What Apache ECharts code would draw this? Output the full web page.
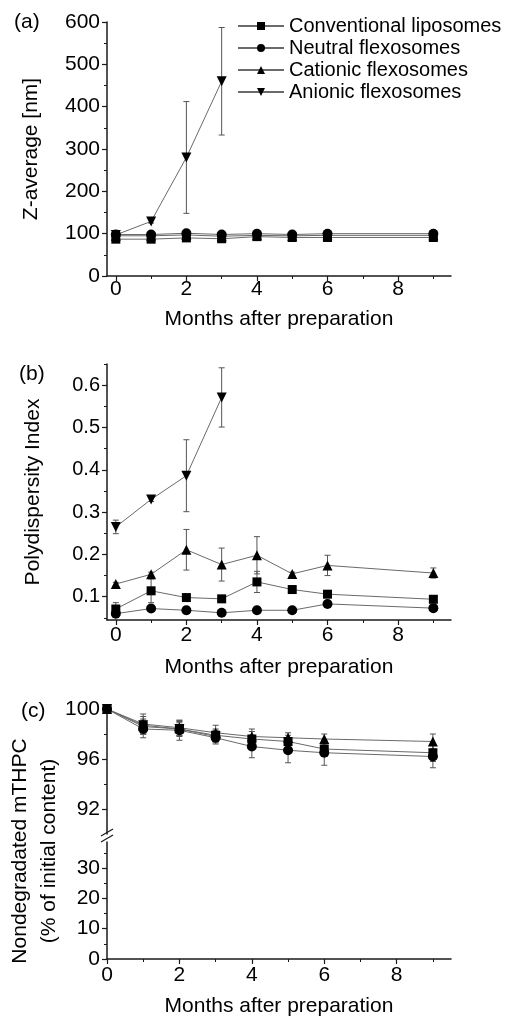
<!DOCTYPE html>
<html>
<head>
<meta charset="utf-8">
<title>Liposome stability</title>
<script src="https://cdn.jsdelivr.net/npm/echarts@6/dist/echarts.min.js"></script>
<style>
  html, body { margin: 0; padding: 0; background: #fff; }
  #chart { width: 510px; height: 1018px; }
</style>
</head>
<body>
<div id="chart"></div>
<script>
  // months at which samples were measured
  const months = [0, 1, 2, 3, 4, 5, 6, 9]
  const anionicMonths = [0, 1, 2, 3]

  const seriesNames = ['Conventional liposomes', 'Neutral flexosomes', 'Cationic flexosomes', 'Anionic flexosomes']

  // (a) Z-average [nm]
  const zConventional = [87, 87, 90, 88, 93, 91, 91, 91]
  const zConventionalSd = [2, 2, 2, 2, 2, 2, 2, 2]
  const zNeutral = [98, 98, 101, 98, 100, 98, 100, 100]
  const zNeutralSd = [2, 2, 2, 2, 2, 2, 2, 2]
  const zCationic = [95, 95, 97, 94, 96, 95, 96, 96]
  const zCationicSd = [2, 2, 2, 2, 2, 2, 2, 2]
  const zAnionic = [97, 129, 280, 460]
  const zAnionicSd = [3, 4, 132, 127]

  // (b) polydispersity index
  const pdiConventional = [0.071, 0.114, 0.098, 0.095, 0.135, 0.117, 0.106, 0.094]
  const pdiConventionalSd = [0.015, 0.028, 0.008, 0.004, 0.025, 0.004, 0.004, 0.005]
  const pdiNeutral = [0.060, 0.072, 0.068, 0.062, 0.068, 0.068, 0.083, 0.073]
  const pdiNeutralSd = [0.004, 0.006, 0.008, 0.003, 0.004, 0.004, 0.004, 0.004]
  const pdiCationic = [0.130, 0.153, 0.211, 0.176, 0.198, 0.154, 0.174, 0.156]
  const pdiCationicSd = [0.004, 0.005, 0.048, 0.039, 0.044, 0.004, 0.024, 0.012]
  const pdiAnionic = [0.265, 0.330, 0.386, 0.571]
  const pdiAnionicSd = [0.016, 0.005, 0.085, 0.070]

  // (c) nondegradated mTHPC [% of initial content]
  const cConventional = [100, 98.6, 98.4, 97.9, 97.6, 97.4, 96.8, 96.5]
  const cConventionalSd = [0, 0.6, 0.5, 0.5, 0.6, 0.5, 0.6, 0.7]
  const cNeutral = [100, 98.4, 98.3, 97.7, 97.0, 96.7, 96.5, 96.2]
  const cNeutralSd = [0, 0.7, 0.8, 0.5, 0.9, 1.0, 1.0, 0.9]
  const cCationic = [100, 98.8, 98.5, 98.1, 97.8, 97.7, 97.6, 97.4]
  const cCationicSd = [0, 0.8, 0.6, 0.6, 0.6, 0.4, 0.4, 0.6]
  const cAnionic = [100, 98.7, 98.4, 97.8]
  const cAnionicSd = [0, 0.7, 0.6, 0.5]

  // tick labels
  const monthTicks = [0, 2, 4, 6, 8]
  const monthMinor = [1, 3, 5, 7, 9]
  const zTicks = [0, 100, 200, 300, 400, 500, 600]
  const zMinor = [50, 150, 250, 350, 450, 550]
  const pdiTicks = [0.1, 0.2, 0.3, 0.4, 0.5, 0.6]
  const pdiMinor = [0.05, 0.15, 0.25, 0.35, 0.45, 0.55, 0.65]
  const cUpperTicks = [92, 96, 100]
  const cUpperMinor = [94, 98]
  const cLowerTicks = [0, 10, 20, 30]
  const cLowerMinor = [5, 15, 25, 35]

  const FONT = 'Liberation Sans, Arial, sans-serif'
  const AXIS_COLOR = '#1a1a1a'
  const LINE_COLOR = '#6a6a6a'

  const symbols = [
    { symbol: 'rect', size: 9, rotate: 0 },
    { symbol: 'circle', size: 10, rotate: 0 },
    { symbol: 'triangle', size: 10, rotate: 0 },
    { symbol: 'triangle', size: 10, rotate: 180 }
  ]

  const grids = [
    { left: 107, right: 59, top: 22, height: 254 },
    { left: 107, right: 59, top: 364, height: 256 },
    { left: 107, right: 59, top: 709, height: 125 },
    { left: 107, right: 59, top: 842, height: 121 }
  ]

  const xAxes = []
  const yAxes = []

  function addAxes(list, dim, grid, min, max, ticks, minor, opt) {
    opt = opt || {}
    const pos = dim === 'x' ? 'bottom' : 'left'
    list.push({
      type: 'value',
      gridIndex: grid,
      position: pos,
      min: min,
      max: max,
      show: opt.show !== false,
      name: opt.name || '',
      nameLocation: 'middle',
      nameGap: opt.nameGap || 30,
      nameTextStyle: { fontFamily: FONT, fontSize: 21, color: '#000' },
      axisLine: { show: opt.line !== false, onZero: false, lineStyle: { color: AXIS_COLOR, width: 1.5 } },
      axisTick: { show: true, inside: false, length: 5, customValues: ticks, lineStyle: { color: AXIS_COLOR, width: 1.2 } },
      axisLabel: {
        show: true,
        customValues: ticks,
        margin: opt.margin || 6,
        fontFamily: FONT,
        fontSize: opt.fontSize || 21,
        color: '#000'
      },
      splitLine: { show: false }
    })
    const main = list.length - 1
    if (minor && opt.show !== false) {
      list.push({
        type: 'value',
        gridIndex: grid,
        position: pos,
        min: min,
        max: max,
        axisLine: { show: false, onZero: false },
        axisTick: { show: true, inside: false, length: 3, customValues: minor, lineStyle: { color: AXIS_COLOR, width: 1 } },
        axisLabel: { show: false },
        splitLine: { show: false }
      })
    }
    return main
  }

  // panel (a)
  const xa = addAxes(xAxes, 'x', 0, -0.25, 9.5, monthTicks, monthMinor, { name: 'Months after preparation', nameGap: 33, margin: 3 })
  const ya = addAxes(yAxes, 'y', 0, 0, 600, zTicks, zMinor, { name: 'Z-average [nm]', nameGap: 65, margin: 7 })
  // panel (b)
  const xb = addAxes(xAxes, 'x', 1, -0.25, 9.5, monthTicks, monthMinor, { name: 'Months after preparation', nameGap: 37, margin: 5 })
  const yb = addAxes(yAxes, 'y', 1, 0.045, 0.65, pdiTicks, pdiMinor, { name: 'Polydispersity Index', nameGap: 63, margin: 7, fontSize: 20 })
  // panel (c), upper part of the broken axis
  const xc1 = addAxes(xAxes, 'x', 2, 0, 9.5, [], null, { show: false })
  const yc1 = addAxes(yAxes, 'y', 2, 90, 100, cUpperTicks, cUpperMinor, { margin: 7 })
  // panel (c), lower part
  const xc2 = addAxes(xAxes, 'x', 3, 0, 9.5, monthTicks, monthMinor, { name: 'Months after preparation', nameGap: 37, margin: 6 })
  const yc2 = addAxes(yAxes, 'y', 3, 0, 38.6, cLowerTicks, cLowerMinor, { margin: 7 })

  function errorBars(params, api) {
    const x = api.value(0)
    const lo = api.coord([x, api.value(1)])
    const hi = api.coord([x, api.value(2)])
    const w = 3
    const style = { stroke: '#555', lineWidth: 1 }
    return {
      type: 'group',
      children: [
        { type: 'line', shape: { x1: lo[0], y1: lo[1], x2: hi[0], y2: hi[1] }, style: style },
        { type: 'line', shape: { x1: lo[0] - w, y1: lo[1], x2: lo[0] + w, y2: lo[1] }, style: style },
        { type: 'line', shape: { x1: hi[0] - w, y1: hi[1], x2: hi[0] + w, y2: hi[1] }, style: style }
      ]
    }
  }

  const series = []

  function addPanel(xi, yi, sets) {
    sets.forEach(function (s, k) {
      const xs = s[0], ys = s[1], sd = s[2]
      const sym = symbols[k]
      series.push({
        type: 'custom',
        name: seriesNames[k] + ' SD',
        xAxisIndex: xi,
        yAxisIndex: yi,
        renderItem: errorBars,
        silent: true,
        clip: false,
        z: 1,
        encode: { x: 0, y: [1, 2] },
        data: xs.map(function (x, i) { return [x, ys[i] - sd[i], ys[i] + sd[i]] })
      })
      series.push({
        type: 'line',
        name: seriesNames[k],
        xAxisIndex: xi,
        yAxisIndex: yi,
        symbol: sym.symbol,
        symbolSize: sym.size,
        symbolRotate: sym.rotate,
        showAllSymbol: true,
        clip: false,
        z: 3,
        lineStyle: { color: LINE_COLOR, width: 1 },
        itemStyle: { color: '#000' },
        data: xs.map(function (x, i) { return [x, ys[i]] })
      })
    })
  }

  addPanel(xa, ya, [
    [months, zConventional, zConventionalSd],
    [months, zNeutral, zNeutralSd],
    [months, zCationic, zCationicSd],
    [anionicMonths, zAnionic, zAnionicSd]
  ])
  addPanel(xb, yb, [
    [months, pdiConventional, pdiConventionalSd],
    [months, pdiNeutral, pdiNeutralSd],
    [months, pdiCationic, pdiCationicSd],
    [anionicMonths, pdiAnionic, pdiAnionicSd]
  ])
  addPanel(xc1, yc1, [
    [months, cConventional, cConventionalSd],
    [months, cNeutral, cNeutralSd],
    [months, cCationic, cCationicSd],
    [anionicMonths, cAnionic, cAnionicSd]
  ])

  const textStyle = { fontFamily: FONT, fontSize: 21, fill: '#000' }

  const option = {
    backgroundColor: '#fff',
    animation: false,
    grid: grids,
    xAxis: xAxes,
    yAxis: yAxes,
    legend: {
      data: seriesNames,
      orient: 'vertical',
      left: 237,
      top: 16,
      padding: 0,
      itemWidth: 46,
      itemHeight: 10,
      itemGap: 2,
      textStyle: { fontFamily: FONT, fontSize: 20, color: '#000' }
    },
    graphic: [
      { type: 'text', left: 14, top: 12, style: Object.assign({ text: '(a)' }, textStyle) },
      { type: 'text', left: 19, top: 364, style: Object.assign({ text: '(b)' }, textStyle) },
      { type: 'text', left: 21, top: 701, style: Object.assign({ text: '(c)' }, textStyle) },
      {
        type: 'text',
        x: 35,
        y: 851,
        rotation: Math.PI / 2,
        style: Object.assign({
          text: 'Nondegradated mTHPC\n(% of initial content)',
          align: 'center',
          verticalAlign: 'middle',
          lineHeight: 29
        }, textStyle)
      },
      // axis break marks
      { type: 'line', shape: { x1: 101, y1: 836, x2: 113, y2: 829 }, style: { stroke: AXIS_COLOR, lineWidth: 1.2 } },
      { type: 'line', shape: { x1: 101, y1: 842, x2: 113, y2: 835 }, style: { stroke: AXIS_COLOR, lineWidth: 1.2 } }
    ],
    series: series
  }

  const dom = echarts.init(document.getElementById('chart'))
  dom.setOption(option)
  window.addEventListener('resize', function () { dom.resize() })
</script>
</body>
</html>
